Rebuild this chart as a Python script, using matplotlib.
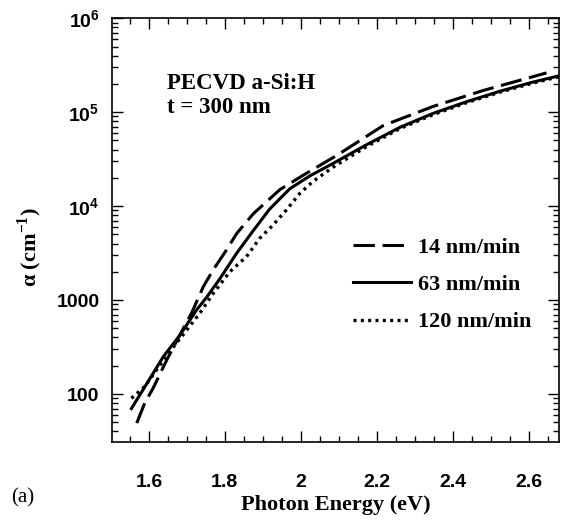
import numpy as np
import matplotlib
matplotlib.use("Agg")
from matplotlib import pyplot as plt
from matplotlib.ticker import FixedLocator, FixedFormatter, MultipleLocator, LogLocator, NullFormatter

plt.rcParams['mathtext.fontset'] = 'custom'
plt.rcParams['mathtext.rm'] = 'Liberation Sans:bold'
plt.rcParams['mathtext.sf'] = 'Liberation Serif:bold'
plt.rcParams['mathtext.default'] = 'rm'

# 14 nm/min
e14 = [1.568, 1.589, 1.611, 1.647, 1.686, 1.712, 1.743, 1.769, 1.804, 1.831, 1.875, 1.945,
       2.015, 2.094, 2.217, 2.348, 2.480, 2.647]
a14 = [49, 80, 115, 230, 460, 720, 1380, 2090, 3400, 5100, 8300, 15000,
       22400, 34500, 72000, 115000, 170000, 262000]
# 63 nm/min
e63 = [1.554, 1.594, 1.638, 1.682, 1.725, 1.752, 1.787, 1.831, 1.875, 1.918, 1.971, 2.024,
       2.085, 2.173, 2.261, 2.348, 2.436, 2.524, 2.611, 2.682]
a63 = [70, 128, 250, 425, 780, 1070, 1690, 3150, 5500, 9300, 15300, 21000,
       28500, 45000, 69000, 97000, 129000, 167000, 209000, 245000]
# 120 nm/min
e120 = [1.554, 1.589, 1.620, 1.664, 1.699, 1.734, 1.769, 1.813, 1.857, 1.892, 1.927, 1.962,
        1.997, 2.032, 2.085, 2.173, 2.261, 2.348, 2.436, 2.524, 2.611, 2.682]
a120 = [90, 120, 180, 315, 475, 725, 1170, 2000, 2900, 4550, 6300, 9100,
        13600, 18300, 26000, 43000, 67000, 94000, 126000, 163000, 204000, 240000]

series_labels = ['14 nm/min', '63 nm/min', '120 nm/min']
ytick_vals = [100, 1000, 1e4, 1e5, 1e6]
ytick_labels = ['100', '1000', '$10^4$', '$10^5$', '$10^6$']
xtick_vals = [1.6, 1.8, 2.0, 2.2, 2.4, 2.6]
xtick_labels = ['1.6', '1.8', '2', '2.2', '2.4', '2.6']

fig = plt.figure(figsize=(5.63, 5.21), dpi=100)
ax = fig.add_axes([0.199, 0.152, 0.794, 0.813])

ax.plot(e14, a14, color='black', lw=2.2, dashes=[7, 2.5], label=series_labels[0])
ax.plot(e63, a63, color='black', lw=2.2, label=series_labels[1])
ax.plot(e120, a120, color='black', lw=2.4, dashes=[0.9, 1.3], label=series_labels[2])

ax.set_yscale('log')
ax.set_xlim(1.503, 2.68)
ax.set_ylim(31, 1e6)

ax.yaxis.set_major_locator(FixedLocator(ytick_vals))
ax.yaxis.set_major_formatter(FixedFormatter(ytick_labels))
ax.yaxis.set_minor_locator(LogLocator(base=10, subs=np.arange(2, 10)))
ax.yaxis.set_minor_formatter(NullFormatter())
ax.xaxis.set_major_locator(FixedLocator(xtick_vals))
ax.xaxis.set_major_formatter(FixedFormatter(xtick_labels))
ax.xaxis.set_minor_locator(MultipleLocator(0.05))

ax.tick_params(which='both', direction='in', top=True, right=True, width=1)
ax.tick_params(which='major', length=8)
ax.tick_params(which='minor', length=4)
ax.tick_params(axis='x', which='major', pad=23)
ax.tick_params(axis='y', which='major', pad=9)
for lab in ax.get_xticklabels() + ax.get_yticklabels():
    lab.set_fontfamily('Liberation Sans')
    lab.set_fontweight('bold')
    lab.set_fontsize(14)
for sp in ax.spines.values():
    sp.set_linewidth(1.2)

ax.set_xlabel('Photon Energy (eV)', family='Liberation Serif', weight='bold', fontsize=16, labelpad=3)
fig.text(0.053, 0.525, 'α (cm$^{\\mathsf{-1}}$)', rotation=90, family='Liberation Serif',
         weight='bold', fontsize=16, ha='center', va='center')
fig.text(0.02, 0.045, '(a)', family='Liberation Serif', fontsize=15, ha='left', va='center')

ax.text(0.123, 0.818, 'PECVD a-Si:H\nt = 300 nm', transform=ax.transAxes, family='Liberation Serif',
        weight='bold', fontsize=16.5, ha='left', va='center', linespacing=1.2)

leg = ax.legend(loc='upper left', bbox_to_anchor=(0.495, 0.53), frameon=False,
                prop={'family': 'Liberation Serif', 'weight': 'bold', 'size': 16},
                handlelength=2.6, handletextpad=0.3, labelspacing=0.75)

fig.savefig('out.png', dpi=100)
